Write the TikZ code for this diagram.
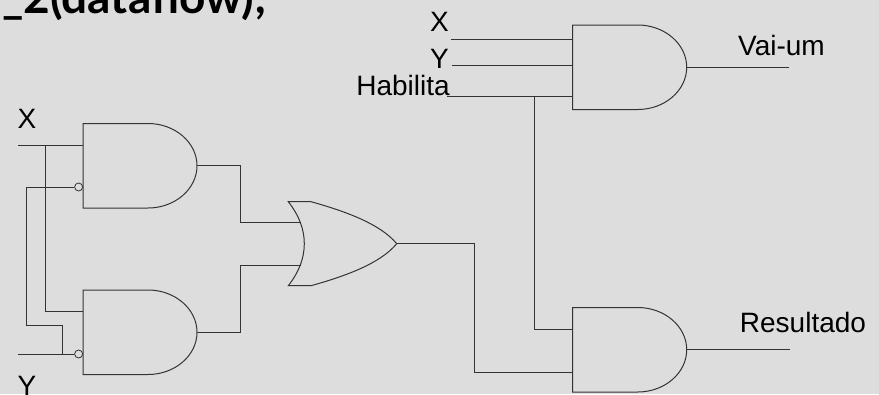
\documentclass[tikz,border=0pt]{standalone}
\usepackage{fontspec}
\setmainfont{Liberation Sans}
\newfontfamily\titlefont{Lato}
\definecolor{fundo}{HTML}{DDDDDD}
\definecolor{fio}{HTML}{333333}
\tikzset{
    porta/.style={draw=fio, line width=1pt, fill=fundo},
    andgate/.pic={
        \draw[porta] (0,0) -- (65,0) .. controls (92,0) and (114,19) .. (114,42.25)
            .. controls (114,65.5) and (92,84.5) .. (65,84.5) -- (0,84.5) -- cycle;
        \coordinate (-w) at (0,0);
        \coordinate (-o) at (114,42.25);
    },
    orgate/.pic={
        \draw[porta] (0,0) -- (22.7,0) .. controls (55,9) and (91.7,21.7) .. (108.4,42)
            .. controls (91.7,62.3) and (55,75) .. (22.7,84) -- (0,84)
            .. controls (11,70) and (16,56) .. (16,42) .. controls (16,28) and (11,14) .. (0,0) -- cycle;
        \coordinate (-w) at (0,0);
        \coordinate (-o) at (108.4,42);
    },
}
\begin{document}
\begin{tikzpicture}[
    x=1pt, y=-1pt,
    fio/.style={draw=fio, line width=1pt},
    bolha/.style={circle, draw=fio, line width=0.8pt, fill=fundo, minimum size=8pt, inner sep=0pt, anchor=east},
    rotulo/.style={font=\fontsize{28}{28}\selectfont, text=black, inner sep=0pt, anchor=base},
    titulo/.style={font=\titlefont\bfseries\fontsize{46}{46}\selectfont, text=black, inner sep=0pt, anchor=base west}
]
\fill[fundo] (0,0) rectangle (879,394);
\useasboundingbox (0,0) rectangle (879,394);
\clip (0,0) rectangle (879,394);

\node[titulo] (cab) at (2,13.5) {\_2(dataflow);};

% Portas
\pic (p1) at (83,123.5) {andgate};
\pic (p2) at (83,290) {andgate};
\pic (p3) at (288.3,201.7) {orgate};
\pic (p4) at (572.7,25) {andgate};
\pic (p5) at (572.7,307.5) {andgate};
\node[bolha] (b1) at (83,187) {};
\node[bolha] (b2) at (83,354) {};

% Rotulos
\node[rotulo] (lx1) at (27,128) {X};
\node[rotulo] (ly1) at (27,395) {Y};
\node[rotulo] (lx2) at (439.5,31) {X};
\node[rotulo] (ly2) at (439.5,68) {Y};
\node[rotulo] (lh) at (403,95.7) {Habilita};
\node[rotulo] (lv) at (781.5,55) {Vai-um};
\node[rotulo] (lr) at (803,332.3) {Resultado};

% Entradas
\coordinate (ex) at (18,145);
\coordinate (ey) at (18,354);
\coordinate (jx) at (45,145);
\coordinate (jy) at (62,354);
\coordinate (ex2) at (451,39.5);
\coordinate (ey2) at (452,65.5);
\coordinate (eh) at (447,96);
\coordinate (jh) at (534,96);
\coordinate (s4) at (789,67);
\coordinate (s5) at (790,351);

% Ligacoes da esquerda
\draw[fio] (ex) -- (ex -| p1-w);
\draw[fio] (jx) |- (83,311);
\draw[fio] (b1) -| (26,325) -| (jy);
\draw[fio] (ey) -- (b2);

% Saidas para a porta ou
\draw[fio] (p1-o) -| (240,222.7) -- (301,222.7);
\draw[fio] (p2-o) -| (240,265) -- (301,265);
\draw[fio] (p3-o) -| (474,372) -- (p5-w |- 0,372);

% Ligacoes da direita
\draw[fio] (ex2) -- (ex2 -| p4-w);
\draw[fio] (ey2) -- (ey2 -| p4-w);
\draw[fio] (eh) -- (eh -| p4-w);
\draw[fio] (jh) |- (p5-w |- 0,329);
\draw[fio] (p4-o) -- (p4-o -| s4);
\draw[fio] (p5-o) -- (p5-o -| s5);
\end{tikzpicture}
\end{document}
